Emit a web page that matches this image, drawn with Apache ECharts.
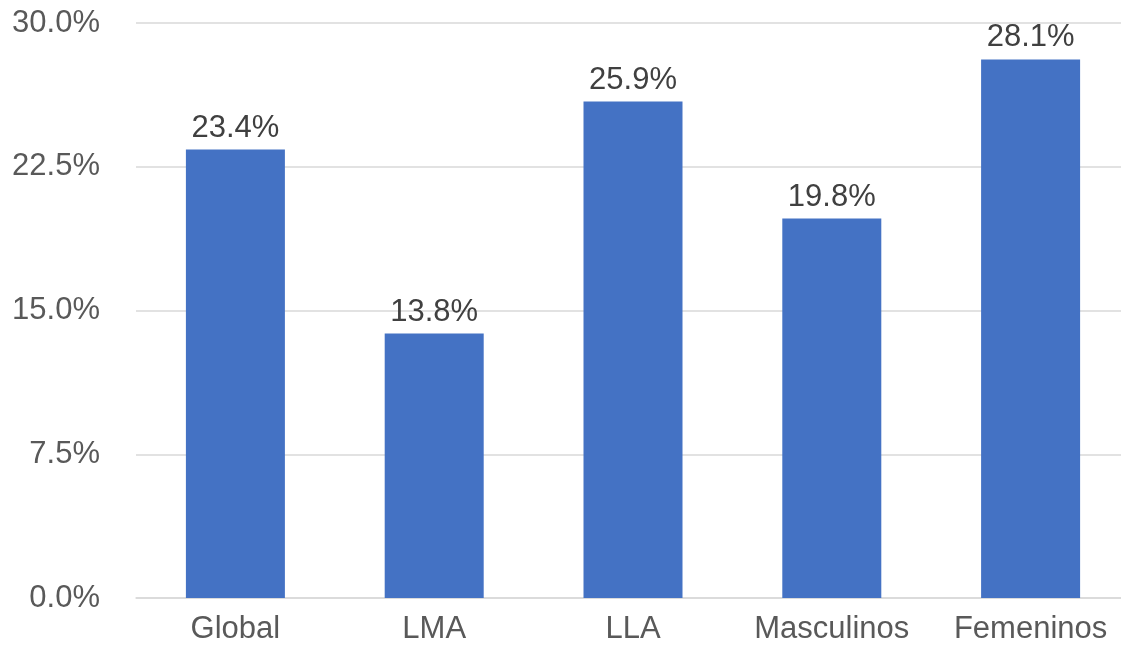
<!DOCTYPE html>
<html>
<head>
<meta charset="utf-8">
<script src="https://cdn.jsdelivr.net/npm/echarts@6/dist/echarts.min.js"></script>
<style>
  html, body { margin: 0; padding: 0; background: #ffffff; overflow: hidden; }
  /* plot area runs slightly past the right edge of the window */
  #chart { width: 1130px; height: 645px; }
</style>
</head>
<body>
<div id="chart"></div>
<script>
// Categories and percentages shown on the bars
const categories = ['Global', 'LMA', 'LLA', 'Masculinos', 'Femeninos'];
const values = [23.4, 13.8, 25.9, 19.8, 28.1];

// Value axis range
const yMin = 0;
const yMax = 30;
const yStep = 7.5;

const FONT = '"Liberation Sans", Arial, sans-serif';

const chart = echarts.init(document.getElementById('chart'), null, { renderer: 'canvas' });
chart.setOption({
  animation: false,
  backgroundColor: '#ffffff',
  grid: { left: 136, top: 23, right: 0, bottom: 46, containLabel: false },
  xAxis: {
    type: 'category',
    data: categories,
    axisLine: { show: true, lineStyle: { color: '#d9d9d9', width: 1.5 } },
    axisTick: { show: false },
    axisLabel: { interval: 0, color: '#595959', fontFamily: FONT, fontSize: 31, margin: 16 }
  },
  yAxis: {
    type: 'value',
    min: yMin,
    max: yMax,
    interval: yStep,
    axisLine: { show: false },
    axisTick: { show: false },
    splitLine: { lineStyle: { color: '#d9d9d9', width: 1.5 } },
    axisLabel: {
      color: '#595959', fontFamily: FONT, fontSize: 31, margin: 36,
      formatter: v => v.toFixed(1) + '%'
    }
  },
  series: [{
    type: 'bar',
    data: values,
    barWidth: 99,
    itemStyle: { color: '#4472C4' },
    label: {
      show: true,
      position: 'top',
      distance: 6,
      color: '#404040',
      fontFamily: FONT,
      fontSize: 31,
      formatter: p => p.value.toFixed(1) + '%'
    }
  }]
});
</script>
</body>
</html>
